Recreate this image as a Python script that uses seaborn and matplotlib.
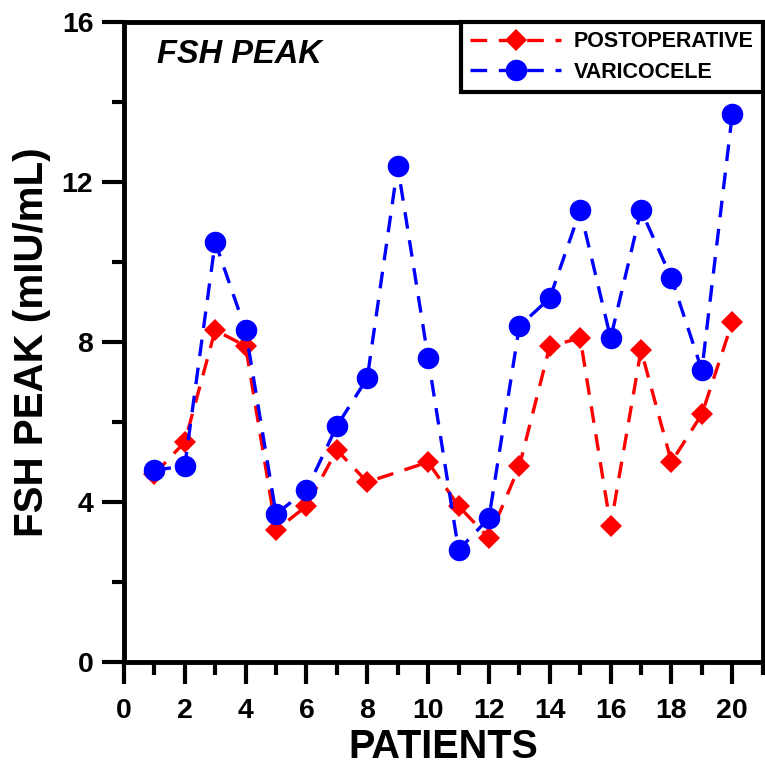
import seaborn as sns
import matplotlib.pyplot as plt
import pandas as pd
import numpy as np
from matplotlib.ticker import MultipleLocator

# -----------------------
# Data
# -----------------------
patients = list(range(1, 21))
postoperative = [4.7, 5.5, 8.3, 7.9, 3.3, 3.9, 5.3, 4.5, np.nan, 5.0,
                 3.9, 3.1, 4.9, 7.9, 8.1, 3.4, 7.8, 5.0, 6.2, 8.5]
varicocele = [4.8, 4.9, 10.5, 8.3, 3.7, 4.3, 5.9, 7.1, 12.4, 7.6,
              2.8, 3.6, 8.4, 9.1, 11.3, 8.1, 11.3, 9.6, 7.3, 13.7]

post_df = pd.DataFrame({"Patient": patients, "FSH": postoperative}).dropna()
vari_df = pd.DataFrame({"Patient": patients, "FSH": varicocele}).dropna()

# -----------------------
# Plot
# -----------------------
sns.set_style("white")
plt.rcParams["font.family"] = ["Liberation Sans", "DejaVu Sans"]
plt.rcParams["font.weight"] = "bold"
for key in ["text.color", "axes.labelcolor", "xtick.color", "ytick.color",
            "axes.edgecolor"]:
    plt.rcParams[key] = "black"

fig = plt.figure(figsize=(7.65, 7.65), dpi=100)
ax = fig.add_axes([0.162, 0.1346, 0.835, 0.8364])

sns.lineplot(data=post_df, x="Patient", y="FSH", color="red", marker="D",
             markersize=11, markeredgewidth=0, linewidth=2.4,
             dashes=False, label="POSTOPERATIVE", ax=ax)
sns.lineplot(data=vari_df, x="Patient", y="FSH", color="blue", marker="o",
             markersize=15.5, markeredgewidth=0, linewidth=2.4,
             dashes=False, label="VARICOCELE", ax=ax)
for line in ax.lines:
    line.set_linestyle((0, (5, 3.5)))

ax.set_xlim(0, 21)
ax.set_ylim(0, 16)
ax.xaxis.set_major_locator(MultipleLocator(2))
ax.xaxis.set_minor_locator(MultipleLocator(1))
ax.yaxis.set_major_locator(MultipleLocator(4))
ax.yaxis.set_minor_locator(MultipleLocator(2))
ax.tick_params(axis="both", which="major", direction="out", length=16,
               width=3, color="black", pad=6)
ax.tick_params(axis="x", which="major", pad=10)
ax.tick_params(axis="both", which="minor", direction="out", length=9,
               width=3, color="black")
ax.tick_params(top=False, right=False, bottom=True, left=True, which="both")
for lab in ax.get_xticklabels() + ax.get_yticklabels():
    lab.set_fontweight("bold")
    lab.set_fontsize(20.5)
    lab.set_color("black")

for sp in ax.spines.values():
    sp.set_linewidth(3.5)
    sp.set_color("black")

ax.set_xlabel("PATIENTS", fontsize=28.5, fontweight="bold", labelpad=3)
ax.set_ylabel("FSH PEAK (mIU/mL)", fontsize=29, fontweight="bold", labelpad=8)
ax.text(0.052, 0.936, "FSH PEAK", transform=ax.transAxes, fontsize=23.5,
        fontweight="bold", fontstyle="italic", va="baseline", ha="left")

leg = ax.legend(loc="upper right", borderaxespad=0, fontsize=15.5,
                handlelength=4.2, frameon=True, fancybox=False,
                framealpha=1, borderpad=0.42, labelspacing=0.45,
                handletextpad=0.6)
leg.get_frame().set_edgecolor("black")
leg.get_frame().set_linewidth(3)
for t in leg.get_texts():
    t.set_fontweight("bold")
    t.set_color("black")

plt.savefig("out.png", dpi=100)
